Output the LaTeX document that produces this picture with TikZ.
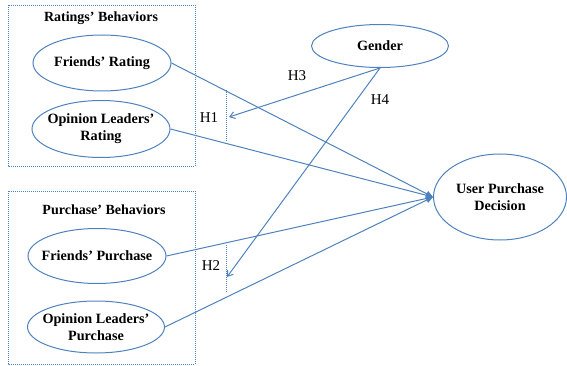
\documentclass[tikz,border=0pt]{standalone}
\usepackage{fontspec}
\setmainfont{Liberation Serif}
\usetikzlibrary{shapes.geometric,arrows.meta}
\definecolor{linkblue}{HTML}{4F81BD}
\begin{document}
\begin{tikzpicture}[x=1pt,y=-1pt,
  construct/.style={ellipse,draw=linkblue,line width=1pt,inner xsep=-40pt,inner ysep=-20pt,
    align=center,font=\fontsize{14.2}{17}\selectfont\bfseries},
  groupbox/.style={draw=linkblue,line width=0.8pt,dash pattern=on 1pt off 1pt},
  grouptitle/.style={font=\fontsize{14}{16}\selectfont\bfseries},
  path/.style={draw=linkblue,line width=1pt,-{Triangle[length=7pt,width=6pt]}},
  moderate/.style={draw=linkblue,line width=1pt,-{Straight Barb[length=5pt,width=7pt]}},
  hyp/.style={font=\fontsize{15}{17}\selectfont},
  bracket/.style={draw=linkblue,line width=0.8pt,dash pattern=on 1pt off 1pt}]
\useasboundingbox (0,0) rectangle (567,366);

% group frames
\draw[groupbox] (8,5) rectangle (195,166);
\draw[groupbox] (8,191) rectangle (195,364);
\node[grouptitle] (t1) at (101,18) {Ratings’ Behaviors};
\node[grouptitle] (t2) at (104,210) {Purchase’ Behaviors};

% constructs
\node[construct,minimum width=138pt,minimum height=56pt] (fr) at (102,63) {Friends’ Rating};
\node[construct,minimum width=138pt,minimum height=57pt] (olr) at (101,129) {Opinion Leaders’\\Rating};
\node[construct,minimum width=138pt,minimum height=55pt] (fp) at (97,256) {Friends’ Purchase};
\node[construct,minimum width=137pt,minimum height=52pt] (olp) at (96,327) {Opinion Leaders’\\Purchase};
\node[construct,minimum width=137pt,minimum height=43pt] (g) at (380,46) {Gender};
\node[construct,minimum width=133pt,minimum height=86pt] (upd) at (500,197) {User Purchase\\Decision};

% main effects
\draw[path] (fr.east) -- (upd.west);
\draw[path] (olr.east) -- (upd.west);
\draw[path] (fp.east) -- (upd.west);
\draw[path] (olp.east) -- (upd.west);

% hypothesis brackets
\coordinate (b1t) at (226,90);
\coordinate (b1b) at (226,142);
\coordinate (b2t) at (226,245);
\coordinate (b2b) at (226,292);
\draw[bracket] (b1t) -- (b1b);
\draw[bracket] (b2t) -- (b2b);

% moderating effects of gender
\coordinate (m1) at (229,117);
\coordinate (m2) at (227,277);
\draw[moderate] (g.south) -- (m1);
\draw[moderate] (g.south) -- (m2);

% hypothesis labels
\node[hyp] (h1) at (209,118) {H1};
\node[hyp] (h2) at (211,266) {H2};
\node[hyp] (h3) at (297,76) {H3};
\node[hyp] (h4) at (380,100) {H4};
\end{tikzpicture}
\end{document}
